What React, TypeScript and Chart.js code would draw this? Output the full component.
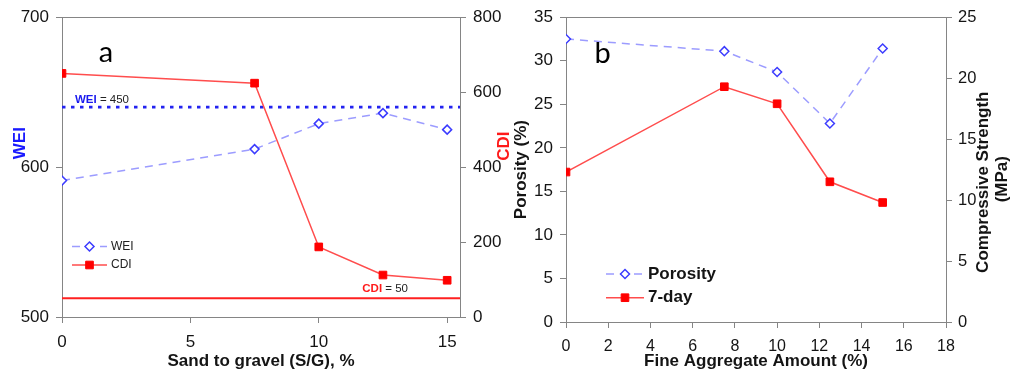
import React, { useEffect, useRef } from "react";
import { Chart, registerables } from "chart.js";

Chart.register(...registerables);

// ---------- Panel a data ----------
const sgRatio = [0, 7.5, 10, 12.5, 15];
const weiValues = [591, 612, 629, 636, 625];
const cdiValues = [650, 624, 187, 112, 98];
const weiLimitValue = 640;
const weiLimitText = "450";
const cdiLimitValue = 50;
const cdiLimitText = "50";
const panelAXRange = [0, 15.5];
const panelAXTickStep = 5;
const weiAxisRange = [500, 700];
const weiTickStep = 100;
const cdiAxisRange = [0, 800];
const cdiTickStep = 200;

// ---------- Panel b data ----------
const fineAggregate = [0, 7.5, 10, 12.5, 15];
const porosityValues = [32.5, 31.1, 28.7, 22.8, 31.4];
const strength7Day = [12.3, 19.3, 17.9, 11.5, 9.8];
const panelBXRange = [0, 18];
const panelBXTickStep = 2;
const porosityAxisRange = [0, 35];
const porosityTickStep = 5;
const strengthAxisRange = [0, 25];
const strengthTickStep = 5;

// ---------- styles ----------
const SANS = '"Liberation Sans", Arial, Helvetica, sans-serif';
const LETTER_FONT = '29px Lato, "Open Sans", sans-serif';
const TEXT = "#141414";
const AXIS = "#858585";
const BLUE_TITLE = "#1a1aff";
const RED_TITLE = "#ff1a1a";

const blueSeriesStyle = {
  borderColor: "#9c9cff",
  borderWidth: 1.5,
  borderDash: [8, 6],
  pointStyle: "rectRot",
  pointRadius: 4.5,
  pointHoverRadius: 4.5,
  pointBorderWidth: 1.5,
  pointBackgroundColor: "#ffffff",
  pointBorderColor: "#3c3cff",
  tension: 0,
  fill: false,
};
const redSeriesStyle = {
  borderColor: "#ff4d4d",
  borderWidth: 1.5,
  pointStyle: "rect",
  pointRadius: 5.4,
  pointHoverRadius: 5.4,
  pointBorderWidth: 1,
  pointBackgroundColor: "#ff0000",
  pointBorderColor: "#ff0000",
  tension: 0,
  fill: false,
};

const toXY = (xs: number[], ys: number[]) => xs.map((x, i) => ({ x, y: ys[i] }));

type Run = { text: string; font: string; color: string };
type TextSpec = {
  runs: Run[];
  x: (c: any) => number;
  y: (c: any) => number;
  align: "left" | "center" | "right";
  baseline?: CanvasTextBaseline;
  rotate?: number;
};
type LegendSpec = {
  items: number[];
  x0: number;
  x1: number;
  textX: number;
  firstRowFromBottom: number;
  rowGap: number;
  font: string;
  color: string;
};

function drawMarker(ctx: CanvasRenderingContext2D, ds: any, x: number, y: number) {
  const r = ds.pointRadius;
  ctx.save();
  ctx.setLineDash([]);
  ctx.fillStyle = ds.pointBackgroundColor;
  ctx.strokeStyle = ds.pointBorderColor;
  ctx.lineWidth = ds.pointBorderWidth;
  ctx.beginPath();
  if (ds.pointStyle === "rectRot") {
    ctx.moveTo(x, y - r);
    ctx.lineTo(x + r, y);
    ctx.lineTo(x, y + r);
    ctx.lineTo(x - r, y);
    ctx.closePath();
  } else {
    const s = Math.SQRT1_2 * r;
    ctx.rect(x - s, y - s, 2 * s, 2 * s);
  }
  ctx.fill();
  ctx.stroke();
  ctx.restore();
}

function makeOverlay(texts: TextSpec[], legend: LegendSpec) {
  return {
    id: "overlay",
    afterDraw(chart: any) {
      const { ctx, chartArea: ca } = chart;
      ctx.save();
      // top frame line
      ctx.strokeStyle = AXIS;
      ctx.lineWidth = 1;
      ctx.beginPath();
      ctx.moveTo(ca.left, Math.round(ca.top) + 0.5);
      ctx.lineTo(ca.right, Math.round(ca.top) + 0.5);
      ctx.stroke();

      // texts
      texts.forEach((t) => {
        ctx.save();
        ctx.translate(t.x(chart), t.y(chart));
        if (t.rotate) ctx.rotate(t.rotate);
        ctx.textBaseline = t.baseline || "middle";
        ctx.textAlign = "left";
        const widths = t.runs.map((r) => {
          ctx.font = r.font;
          return ctx.measureText(r.text).width;
        });
        const total = widths.reduce((a, b) => a + b, 0);
        let x = t.align === "center" ? -total / 2 : t.align === "right" ? -total : 0;
        t.runs.forEach((r, i) => {
          ctx.font = r.font;
          ctx.fillStyle = r.color;
          ctx.fillText(r.text, x, 0);
          x += widths[i];
        });
        ctx.restore();
      });

      // legend
      legend.items.forEach((idx, row) => {
        const ds = chart.data.datasets[idx];
        const y = ca.bottom - legend.firstRowFromBottom + row * legend.rowGap;
        const x0 = ca.left + legend.x0;
        const x1 = ca.left + legend.x1;
        ctx.save();
        ctx.strokeStyle = ds.borderColor;
        ctx.lineWidth = ds.borderWidth;
        ctx.setLineDash(ds.borderDash || []);
        ctx.beginPath();
        ctx.moveTo(x0, y);
        ctx.lineTo(x1, y);
        ctx.stroke();
        ctx.restore();
        drawMarker(ctx, ds, (x0 + x1) / 2, y);
        ctx.save();
        ctx.font = legend.font;
        ctx.fillStyle = legend.color;
        ctx.textAlign = "left";
        ctx.textBaseline = "middle";
        ctx.fillText(ds.label, ca.left + legend.textX, y);
        ctx.restore();
      });
      ctx.restore();
    },
  };
}

function axisCommon(tickSize: number, tickPad: number) {
  return {
    type: "linear" as const,
    ticks: { font: { family: SANS, size: tickSize }, color: TEXT, padding: tickPad, includeBounds: false },
    grid: { drawOnChartArea: false, tickLength: 6, color: AXIS, lineWidth: 1 },
    border: { display: true, color: AXIS, width: 1 },
  };
}

function buildPanelA(): any {
  const texts: TextSpec[] = [
    {
      runs: [{ text: "a", font: LETTER_FONT, color: "#000" }],
      x: (c) => c.chartArea.left + 44,
      y: (c) => c.chartArea.top + 45,
      align: "center",
      baseline: "alphabetic",
    },
    {
      runs: [{ text: "WEI", font: `bold 17px ${SANS}`, color: BLUE_TITLE }],
      x: (c) => c.chartArea.left - 42,
      y: (c) => c.chartArea.top + 126,
      align: "center",
      rotate: -Math.PI / 2,
    },
    {
      runs: [{ text: "CDI", font: `bold 17px ${SANS}`, color: RED_TITLE }],
      x: (c) => c.chartArea.right + 44,
      y: (c) => c.chartArea.top + 129,
      align: "center",
      rotate: -Math.PI / 2,
    },
    {
      runs: [
        { text: "WEI", font: `bold 11.5px ${SANS}`, color: "#1a1aee" },
        { text: " = " + weiLimitText, font: `11.5px ${SANS}`, color: "#222" },
      ],
      x: (c) => c.chartArea.left + 13,
      y: (c) => c.scales.yWei.getPixelForValue(weiLimitValue) - 7,
      align: "left",
    },
    {
      runs: [
        { text: "CDI", font: `bold 11.5px ${SANS}`, color: "#ff1a1a" },
        { text: " = " + cdiLimitText, font: `11.5px ${SANS}`, color: "#222" },
      ],
      x: (c) => c.chartArea.right - 52,
      y: (c) => c.scales.yCdi.getPixelForValue(cdiLimitValue) - 9,
      align: "right",
    },
  ];
  const legend: LegendSpec = {
    items: [0, 1],
    x0: 10,
    x1: 45,
    textX: 49,
    firstRowFromBottom: 70.5,
    rowGap: 18.5,
    font: `12px ${SANS}`,
    color: "#222",
  };
  const ax = axisCommon(17, 9);
  const yl = axisCommon(17, 7);
  const yr = axisCommon(17, 7);
  return {
    type: "line",
    data: {
      datasets: [
        { label: "WEI", data: toXY(sgRatio, weiValues), yAxisID: "yWei", order: 2, ...blueSeriesStyle },
        { label: "CDI", data: toXY(sgRatio, cdiValues), yAxisID: "yCdi", order: 1, ...redSeriesStyle },
        {
          label: "WEI limit",
          data: toXY(panelAXRange, [weiLimitValue, weiLimitValue]),
          yAxisID: "yWei",
          order: 3,
          borderColor: "#2323f0",
          borderWidth: 2.6,
          borderDash: [3.5, 5.5],
          pointRadius: 0,
          pointHoverRadius: 0,
        },
        {
          label: "CDI limit",
          data: toXY(panelAXRange, [cdiLimitValue, cdiLimitValue]),
          yAxisID: "yCdi",
          order: 3,
          borderColor: "#ff2020",
          borderWidth: 2,
          pointRadius: 0,
          pointHoverRadius: 0,
        },
      ],
    },
    options: {
      responsive: false,
      maintainAspectRatio: false,
      animation: false,
      events: [],
      layout: { padding: { top: 17, left: 0, right: 0, bottom: 0 } },
      plugins: { legend: { display: false }, tooltip: { enabled: false } },
      scales: {
        x: {
          ...ax,
          min: panelAXRange[0],
          max: panelAXRange[1],
          ticks: { ...ax.ticks, stepSize: panelAXTickStep },
          title: {
            display: true,
            text: "Sand to gravel (S/G), %",
            font: { family: SANS, size: 17, weight: "bold", lineHeight: 1.1 },
            color: TEXT,
            padding: { top: 0, bottom: 0 },
          },
          afterFit: (s: any) => {
            s.height = 54;
          },
        },
        yWei: {
          ...yl,
          position: "left",
          min: weiAxisRange[0],
          max: weiAxisRange[1],
          ticks: { ...yl.ticks, stepSize: weiTickStep },
          afterFit: (s: any) => {
            s.width = 62;
          },
        },
        yCdi: {
          ...yr,
          position: "right",
          min: cdiAxisRange[0],
          max: cdiAxisRange[1],
          ticks: { ...yr.ticks, stepSize: cdiTickStep },
          afterFit: (s: any) => {
            s.width = 60;
          },
        },
      },
    },
    plugins: [makeOverlay(texts, legend)],
  };
}

function buildPanelB(): any {
  const texts: TextSpec[] = [
    {
      runs: [{ text: "b", font: LETTER_FONT, color: "#000" }],
      x: (c) => c.chartArea.left + 36.5,
      y: (c) => c.chartArea.top + 46,
      align: "center",
      baseline: "alphabetic",
    },
    {
      runs: [{ text: "Compressive Strength", font: `bold 17px ${SANS}`, color: TEXT }],
      x: (c) => c.chartArea.right + 37,
      y: (c) => c.chartArea.top + 165,
      align: "center",
      rotate: -Math.PI / 2,
    },
    {
      runs: [{ text: "(MPa)", font: `bold 17px ${SANS}`, color: TEXT }],
      x: (c) => c.chartArea.right + 56,
      y: (c) => c.chartArea.top + 162,
      align: "center",
      rotate: -Math.PI / 2,
    },
  ];
  const legend: LegendSpec = {
    items: [0, 1],
    x0: 40,
    x1: 78,
    textX: 82,
    firstRowFromBottom: 48,
    rowGap: 23.7,
    font: `bold 17px ${SANS}`,
    color: TEXT,
  };
  const ax = axisCommon(16, 9);
  const yl = axisCommon(17, 7);
  const yr = axisCommon(16.5, 6);
  return {
    type: "line",
    data: {
      datasets: [
        { label: "Porosity", data: toXY(fineAggregate, porosityValues), yAxisID: "yPor", order: 2, ...blueSeriesStyle },
        { label: "7-day", data: toXY(fineAggregate, strength7Day), yAxisID: "yStr", order: 1, ...redSeriesStyle },
      ],
    },
    options: {
      responsive: false,
      maintainAspectRatio: false,
      animation: false,
      events: [],
      layout: { padding: { top: 16, left: 0, right: 0, bottom: 0 } },
      plugins: { legend: { display: false }, tooltip: { enabled: false } },
      scales: {
        x: {
          ...ax,
          min: panelBXRange[0],
          max: panelBXRange[1],
          ticks: { ...ax.ticks, stepSize: panelBXTickStep },
          title: {
            display: true,
            text: "Fine Aggregate Amount (%)",
            font: { family: SANS, size: 17, weight: "bold", lineHeight: 1.1 },
            color: TEXT,
            padding: { top: 0, bottom: 0 },
          },
          afterFit: (s: any) => {
            s.height = 49;
          },
        },
        yPor: {
          ...yl,
          position: "left",
          min: porosityAxisRange[0],
          max: porosityAxisRange[1],
          ticks: { ...yl.ticks, stepSize: porosityTickStep },
          title: {
            display: true,
            text: "Porosity (%)",
            font: { family: SANS, size: 17, weight: "bold", lineHeight: 1.1 },
            color: TEXT,
            padding: { top: 12, bottom: 0 },
          },
          afterFit: (s: any) => {
            s.width = 66;
          },
        },
        yStr: {
          ...yr,
          position: "right",
          min: strengthAxisRange[0],
          max: strengthAxisRange[1],
          ticks: { ...yr.ticks, stepSize: strengthTickStep },
          afterFit: (s: any) => {
            s.width = 66;
          },
        },
      },
    },
    plugins: [makeOverlay(texts, legend)],
  };
}

export default function App() {
  const refA = useRef<HTMLCanvasElement>(null);
  const refB = useRef<HTMLCanvasElement>(null);

  useEffect(() => {
    const a = new Chart(refA.current as HTMLCanvasElement, buildPanelA());
    const b = new Chart(refB.current as HTMLCanvasElement, buildPanelB());
    return () => {
      a.destroy();
      b.destroy();
    };
  }, []);

  return (
    <div style={{ position: "relative", width: 1012, height: 371, background: "#ffffff", overflow: "hidden" }}>
      <style>{"html,body{margin:0;padding:0;background:#fff;}"}</style>
      <canvas
        ref={refA}
        width={520}
        height={371}
        style={{ position: "absolute", left: 0, top: 0, width: 520, height: 371 }}
      />
      <canvas
        ref={refB}
        width={512}
        height={371}
        style={{ position: "absolute", left: 500, top: 0, width: 512, height: 371 }}
      />
    </div>
  );
}
